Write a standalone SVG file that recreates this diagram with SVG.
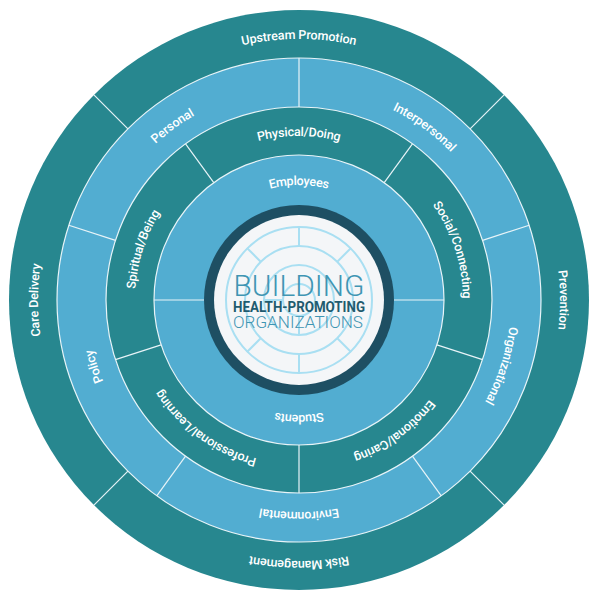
<svg xmlns="http://www.w3.org/2000/svg" xmlns:xlink="http://www.w3.org/1999/xlink" width="600" height="600" viewBox="0 0 600 600">
<style>
.dark{fill:#27878f}.light{fill:#52add1}
.div{stroke:#e8f4f8;stroke-width:1.2}
.lbl{font-family:Roboto,"Liberation Sans",sans-serif;font-weight:500;font-size:12.5px;fill:#ffffff;dominant-baseline:central}
.pat{fill:none;stroke:#a9dff2;stroke-width:2}
</style>
<defs>
<path id="b266" d="M299,566 A266,266 0 1 1 299,34 A266,266 0 1 1 299,566"/>
<path id="t266" d="M299,34 A266,266 0 1 1 299,566 A266,266 0 1 1 299,34"/>
<path id="b217" d="M299,517 A217,217 0 1 1 299,83 A217,217 0 1 1 299,517"/>
<path id="t217" d="M299,83 A217,217 0 1 1 299,517 A217,217 0 1 1 299,83"/>
<path id="b169" d="M299,469 A169,169 0 1 1 299,131 A169,169 0 1 1 299,469"/>
<path id="t169" d="M299,131 A169,169 0 1 1 299,469 A169,169 0 1 1 299,131"/>
<path id="b120" d="M299,420 A120,120 0 1 1 299,180 A120,120 0 1 1 299,420"/>
<path id="t120" d="M299,180 A120,120 0 1 1 299,420 A120,120 0 1 1 299,180"/>
</defs>
<rect width="600" height="600" fill="#ffffff"/>
<g id="rings">
<circle cx="299" cy="300" r="290" class="dark"/>
<circle cx="299" cy="300" r="242" class="light" stroke="#e8f4f8" stroke-width="1.2"/>
<circle cx="299" cy="300" r="193" class="dark" stroke="#e8f4f8" stroke-width="1.2"/>
<circle cx="299" cy="300" r="145" class="light" stroke="#e8f4f8" stroke-width="1.2"/>
</g>
<g id="connectors">
<!-- outer ring dividers at 45,135,225,315 -->
<g transform="translate(299,300)">
<line class="div" x1="171.1" y1="-171.1" x2="205.1" y2="-205.1"/>
<line class="div" x1="171.1" y1="171.1" x2="205.1" y2="205.1"/>
<line class="div" x1="-171.1" y1="171.1" x2="-205.1" y2="205.1"/>
<line class="div" x1="-171.1" y1="-171.1" x2="-205.1" y2="-205.1"/>
<!-- light ring dividers compass 0,72,144,216,288 -->
<g transform="rotate(0)"><line class="div" x1="0" y1="-193" x2="0" y2="-242"/></g>
<g transform="rotate(72)"><line class="div" x1="0" y1="-193" x2="0" y2="-242"/></g>
<g transform="rotate(144)"><line class="div" x1="0" y1="-193" x2="0" y2="-242"/></g>
<g transform="rotate(216)"><line class="div" x1="0" y1="-193" x2="0" y2="-242"/></g>
<g transform="rotate(288)"><line class="div" x1="0" y1="-193" x2="0" y2="-242"/></g>
<!-- dark ring dividers compass 36,108,180,252,324 -->
<g transform="rotate(36)"><line class="div" x1="0" y1="-145" x2="0" y2="-193"/></g>
<g transform="rotate(108)"><line class="div" x1="0" y1="-145" x2="0" y2="-193"/></g>
<g transform="rotate(180)"><line class="div" x1="0" y1="-145" x2="0" y2="-193"/></g>
<g transform="rotate(252)"><line class="div" x1="0" y1="-145" x2="0" y2="-193"/></g>
<g transform="rotate(324)"><line class="div" x1="0" y1="-145" x2="0" y2="-193"/></g>
<!-- inner ring -->
<line class="div" x1="-145" y1="0" x2="-95" y2="0"/>
<line class="div" x1="95" y1="0" x2="145" y2="0"/>
</g>
</g>
<g id="outer-labels" class="lbl">
<text id="upstream" class="lbl" text-anchor="middle"><textPath xlink:href="#b266" startOffset="50%">Upstream Promotion</textPath></text>
<text id="prevention" class="lbl" text-anchor="middle"><textPath xlink:href="#b266" startOffset="75%">Prevention</textPath></text>
<text id="risk" class="lbl" text-anchor="middle"><textPath xlink:href="#t266" startOffset="50%">Risk Management</textPath></text>
<text id="care" class="lbl" text-anchor="middle"><textPath xlink:href="#b266" startOffset="25%">Care Delivery</textPath></text>
</g>
<g id="light-labels">
<text id="personal" class="lbl" text-anchor="middle"><textPath xlink:href="#b217" startOffset="40%">Personal</textPath></text>
<text id="interpersonal" class="lbl" text-anchor="middle"><textPath xlink:href="#b217" startOffset="60%">Interpersonal</textPath></text>
<text id="organizational" class="lbl" text-anchor="middle"><textPath xlink:href="#b217" startOffset="80%">Organizational</textPath></text>
<text id="environmental" class="lbl" text-anchor="middle"><textPath xlink:href="#t217" startOffset="50%">Environmental</textPath></text>
<text id="policy" class="lbl" text-anchor="middle"><textPath xlink:href="#b217" startOffset="20%">Policy</textPath></text>
</g>
<g id="dark-labels">
<text id="physical" class="lbl" text-anchor="middle"><textPath xlink:href="#b169" startOffset="50%">Physical/Doing</textPath></text>
<text id="social" class="lbl" text-anchor="middle"><textPath xlink:href="#b169" startOffset="70%">Social/Connecting</textPath></text>
<text id="emotional" class="lbl" text-anchor="middle"><textPath xlink:href="#t169" startOffset="40%">Emotional/Caring</textPath></text>
<text id="professional" class="lbl" text-anchor="middle"><textPath xlink:href="#t169" startOffset="60%">Professional/Learning</textPath></text>
<text id="spiritual" class="lbl" text-anchor="middle"><textPath xlink:href="#b169" startOffset="30%">Spiritual/Being</textPath></text>
</g>
<g id="inner-labels">
<text id="employees" class="lbl" text-anchor="middle"><textPath xlink:href="#b120" startOffset="50%">Employees</textPath></text>
<text id="students" class="lbl" text-anchor="middle"><textPath xlink:href="#t120" startOffset="50%">Students</textPath></text>
</g>
<g id="center">
<circle cx="299" cy="300" r="95" fill="#1e4f63"/>
<circle cx="299" cy="300" r="85" fill="#f4f6f8"/>
<circle class="pat" cx="299" cy="300" r="73"/>
<circle class="pat" cx="299" cy="300" r="54"/>
<circle class="pat" cx="299" cy="300" r="35"/>
<circle class="pat" cx="299" cy="300" r="16"/>
<g transform="translate(299,300)">
<line class="pat" x1="0" y1="-54" x2="0" y2="-73"/>
<line class="pat" x1="0" y1="16" x2="0" y2="35"/>
<line class="pat" x1="-38" y1="-38" x2="-52" y2="-52"/>
<line class="pat" x1="38" y1="-38" x2="52" y2="-52"/>
<line class="pat" x1="38" y1="38" x2="52" y2="52"/>
<line class="pat" x1="-38" y1="38" x2="-52" y2="52"/>
<line class="pat" x1="-16" y1="0" x2="-35" y2="0"/>
<line class="pat" x1="0" y1="54" x2="0" y2="73"/>
</g>
<text x="299" y="296" text-anchor="middle" font-family="Roboto,'Liberation Sans',sans-serif" font-weight="300" font-size="30" fill="#3f95b3" textLength="131" lengthAdjust="spacingAndGlyphs">BUILDING</text>
<text x="299" y="312" text-anchor="middle" font-family="Roboto,'Liberation Sans',sans-serif" font-weight="700" font-size="14" fill="#1f5b6f" textLength="132" lengthAdjust="spacingAndGlyphs">HEALTH-PROMOTING</text>
<text x="298" y="328" text-anchor="middle" font-family="Roboto,'Liberation Sans',sans-serif" font-weight="300" font-size="17" fill="#3f95b3" textLength="130" lengthAdjust="spacingAndGlyphs">ORGANIZATIONS</text>
</g>
</svg>
